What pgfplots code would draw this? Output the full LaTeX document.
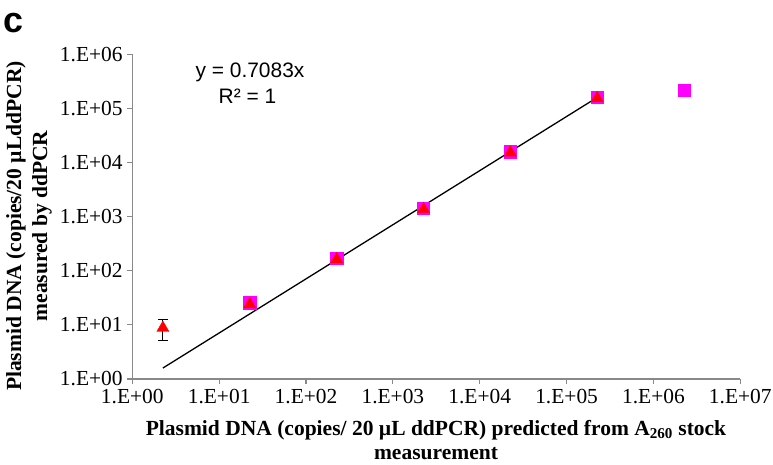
\documentclass[border=0pt]{standalone}
\usepackage{pgfplots}
\pgfplotsset{compat=1.18}
\usepackage{fontspec}
\setmainfont{Liberation Serif}
\setsansfont{Liberation Sans}
\definecolor{sqmag}{RGB}{255,0,255}
\definecolor{trired}{RGB}{255,0,0}
\definecolor{axgrey}{RGB}{137,137,137}

\begin{document}
\begin{tikzpicture}[x=1bp,y=1bp]
\useasboundingbox (0bp,0bp) rectangle (773bp,465bp);
\begin{axis}[
  at={(132.3bp,86bp)}, anchor=south west,
  scale only axis, width=608bp, height=324.7bp,
  xmode=log, ymode=log,
  xmin=1, xmax=1e7, ymin=1, ymax=1e6,
  axis x line=bottom, axis y line=left,
  axis line style={-, axgrey, line width=1.1bp},
  tick style={axgrey, line width=1.1bp},
  tick align=outside, major tick length=5bp,
  xminorticks=false, yminorticks=false,
  xtick={1,10,100,1000,10000,100000,1000000,10000000},
  xticklabels={1.E+00,1.E+01,1.E+02,1.E+03,1.E+04,1.E+05,1.E+06,1.E+07},
  ytick={1,10,100,1000,10000,100000,1000000},
  yticklabels={1.E+00,1.E+01,1.E+02,1.E+03,1.E+04,1.E+05,1.E+06},
  ticklabel style={font=\fontsize{21.5}{25}\selectfont, text=black, inner sep=1.5bp},
  xticklabel style={yshift=-4bp},
  yticklabel style={xshift=-3bp},
  clip=false,
]
% ddPCR, second series (squares)
\addplot[only marks, mark=square*, mark size=6.2bp, color=sqmag] coordinates {
  (22.5,25.7) (225,170) (2250,1426) (22500,15850) (225000,160400) (2250000,219000)
};
% error bar of the lowest point
\addplot[draw=none, forget plot, error bars/.cd, y dir=both, y explicit,
  error bar style={black, line width=0.9bp},
  error mark options={black, rotate=90, mark size=5bp, line width=0.9bp}]
  coordinates {(2.25,8.76) += (0,4.0) -= (0,3.5)};
% triangles
\addplot[only marks, mark=triangle*, mark size=7bp, color=trired] coordinates {
  (2.25,8.76) (22.5,24) (225,163) (2250,1370) (22500,15200) (225000,154000)
};
% trendline y = 0.7083x
\addplot[black, line width=1.3bp] coordinates {(2.25,1.594) (225000,159400)};
\end{axis}
\node[anchor=base, font=\sffamily\bfseries\fontsize{36}{40}\selectfont] at (13.5bp,432bp) {c};
\node[anchor=base, font=\sffamily\fontsize{21}{25}\selectfont] at (250bp,387bp) {y = 0.7083x};
\node[anchor=base, font=\sffamily\fontsize{21}{25}\selectfont] at (247.5bp,361bp) {R² = 1};
\node[anchor=base, font=\bfseries\fontsize{21.6}{25}\selectfont] at (436bp,30bp) {Plasmid DNA (copies/ 20 µL ddPCR) predicted from A\textsubscript{260} stock};
\node[anchor=base, font=\bfseries\fontsize{21.6}{25}\selectfont] at (436bp,5.5bp) {measurement};
\node[anchor=base, rotate=90, font=\bfseries\fontsize{21.6}{25}\selectfont] at (21bp,239bp) {Plasmid DNA (copies/20 µLddPCR)};
\node[anchor=base, rotate=90, font=\bfseries\fontsize{21.6}{25}\selectfont] at (47bp,239bp) {measured by ddPCR};
\end{tikzpicture}
\end{document}
